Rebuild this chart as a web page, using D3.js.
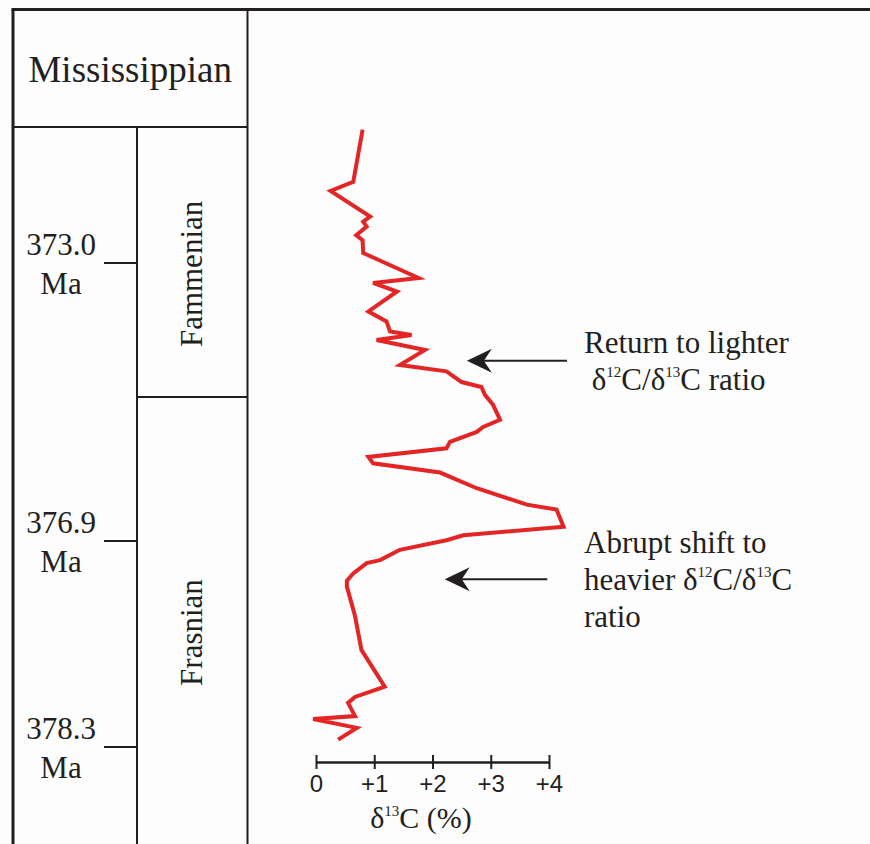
<!DOCTYPE html>
<html>
<head>
<meta charset="utf-8">
<script src="https://cdn.jsdelivr.net/npm/d3@7"></script>
<style>
  body { margin: 0; background: #fdfdfd; }
  svg { display: block; }
  .serif { font-family: "Liberation Serif", "Times New Roman", serif; fill: #231f20; }
  .axis text { font-family: "Liberation Sans", Arial, sans-serif; font-size: 24px; fill: #231f20; }
</style>
</head>
<body>
<svg id="chart"></svg>
<script>
// Age ticks on the time column (Ma)
const ageTicks = [373.0, 376.9, 378.3];
const ageTickLabels = ["373.0", "376.9", "378.3"];

// Stages: name, top age, bottom age
const stageNames = ["Fammenian", "Frasnian"];
const stageTops = [371.09, 374.88];
const stageBottoms = [374.88, 378.96];

// d13C curve, top to bottom
const ageMa = [371.13, 371.86, 371.99, 372.35, 372.42, 372.49, 372.61, 372.68, 372.86, 373.21,
  373.28, 373.40, 373.68, 373.82, 373.96, 374.01, 374.08, 374.22, 374.43, 374.52,
  374.67, 374.74, 374.85, 374.99, 375.20, 375.30, 375.37, 375.51, 375.60, 375.72,
  375.81, 375.94, 376.16, 376.39, 376.46, 376.70, 376.82, 376.89, 376.96, 377.03,
  377.05, 377.12, 377.17, 377.21, 377.41, 377.64, 377.89, 377.96, 378.00, 378.09,
  378.11, 378.17, 378.25];
const d13C = [0.80, 0.64, 0.25, 0.93, 0.81, 0.87, 0.69, 0.80, 0.81, 1.76,
  0.98, 1.39, 0.90, 1.21, 1.27, 1.64, 1.04, 1.87, 1.44, 2.24,
  2.50, 2.84, 2.90, 3.04, 3.16, 2.87, 2.76, 2.30, 2.24, 0.90,
  0.98, 2.13, 2.76, 3.62, 4.13, 4.25, 2.53, 2.24, 1.44, 1.10,
  0.87, 0.64, 0.53, 0.53, 0.67, 0.78, 1.18, 0.67, 0.55, 0.67,
  -0.05, 0.70, 0.38];

// x axis ticks
const xTicks = [0, 1, 2, 3, 4];

// Annotations: arrow age, tip and tail in d13C units, text lines
const noteAges = [374.37, 377.16];
const noteTips = [2.59, 2.21];
const noteTails = [4.31, 3.97];
const noteLines = [
  ["Return to lighter", "\u00a0δ^{12}C/δ^{13}C ratio"],
  ["Abrupt shift to", "heavier δ^{12}C/δ^{13}C", "ratio"]
];

const width = 870, height = 844;
const frameLeft = 13, frameTop = 9.5, colSplit = 137, colRight = 247.5, headerBottom = 127;

const svg = d3.select('#chart')
    .attr('width', width)
    .attr('height', height);

svg.append('rect')
    .attr('width', width).attr('height', height)
    .attr('fill', '#fdfdfd');

// Scales
const xScale = d3.scaleLinear().domain([0, 4]).range([316, 549]);
const yScale = d3.scaleLinear().domain(ageTicks).range([263, 541, 747]);

// writes "δ^{12}C" style strings with superscripts
function richText(sel, str, supSize, supRise) {
  const parts = str.split(/\^\{(\d+)\}/);
  parts.forEach((p, i) => {
    if (!p) return;
    if (i % 2 === 1) {
      sel.append('tspan').attr('dy', -supRise).attr('font-size', supSize).text(p);
    } else {
      const t = sel.append('tspan').text(p);
      if (i > 0) t.attr('dy', supRise);
    }
  });
}

// Frame
const frame = svg.append('g').attr('stroke', '#231f20').attr('fill', 'none');
frame.append('line').attr('x1', frameLeft - 1.5).attr('x2', width).attr('y1', frameTop).attr('y2', frameTop).attr('stroke-width', 3);
frame.append('line').attr('x1', frameLeft).attr('x2', frameLeft).attr('y1', frameTop).attr('y2', height).attr('stroke-width', 3);
frame.append('line').attr('x1', colRight).attr('x2', colRight).attr('y1', frameTop).attr('y2', height).attr('stroke-width', 2);
frame.append('line').attr('x1', frameLeft).attr('x2', colRight).attr('y1', headerBottom).attr('y2', headerBottom).attr('stroke-width', 2);
frame.append('line').attr('x1', colSplit).attr('x2', colSplit).attr('y1', headerBottom).attr('y2', height).attr('stroke-width', 2);

// Stage boundaries (skip the first top, it's the header line)
frame.selectAll('.stage-line')
  .data(stageTops.slice(1))
  .join('line')
    .attr('class', 'stage-line')
    .attr('x1', colSplit).attr('x2', colRight)
    .attr('y1', d => yScale(d)).attr('y2', d => yScale(d))
    .attr('stroke-width', 2);

svg.append('text')
    .attr('class', 'serif')
    .attr('x', (frameLeft + colRight) / 2)
    .attr('y', 82)
    .attr('text-anchor', 'middle')
    .attr('font-size', 37)
    .text('Mississippian');

svg.selectAll('.stage-label')
  .data(stageNames)
  .join('text')
    .attr('class', 'serif stage-label')
    .attr('font-size', 31)
    .attr('text-anchor', 'middle')
    .attr('transform', (d, i) => {
      const cy = (yScale(stageTops[i]) + yScale(stageBottoms[i])) / 2 + 12;
      return `translate(202,${cy}) rotate(-90)`;
    })
    .text(d => d);

// Age ticks
const ageG = svg.append('g');
ageG.selectAll('line')
  .data(ageTicks)
  .join('line')
    .attr('x1', 104).attr('x2', colSplit)
    .attr('y1', d => yScale(d)).attr('y2', d => yScale(d))
    .attr('stroke', '#231f20').attr('stroke-width', 2);

const ageText = ageG.selectAll('text')
  .data(ageTicks)
  .join('text')
    .attr('class', 'serif')
    .attr('font-size', 31)
    .attr('text-anchor', 'middle')
    .attr('y', d => yScale(d) - 8);
ageText.append('tspan').attr('x', 61).text((d, i) => ageTickLabels[i]);
ageText.append('tspan').attr('x', 61).attr('dy', 39).text('Ma');

// d13C curve
const line = d3.line()
    .x(d => xScale(d[0]))
    .y(d => yScale(d[1]));

svg.append('path')
    .datum(d13C.map((v, i) => [v, ageMa[i]]))
    .attr('d', line)
    .attr('fill', 'none')
    .attr('stroke', '#e42525')
    .attr('stroke-width', 4)
    .attr('stroke-linejoin', 'miter')
    .attr('stroke-miterlimit', 4);

// x axis
const axisY = 762;
const xAxis = d3.axisBottom(xScale)
    .tickValues(xTicks)
    .tickSizeOuter(0)
    .tickFormat(d => d === 0 ? '0' : '+' + d);

const axisG = svg.append('g')
    .attr('class', 'axis')
    .attr('transform', `translate(0,${axisY})`)
    .call(xAxis)
    .call(g => g.select('.domain').attr('stroke', '#231f20').attr('stroke-width', 2.5))
    .call(g => g.selectAll('.tick line').attr('y1', -7).attr('y2', 7).attr('stroke', '#231f20').attr('stroke-width', 2))
    .call(g => g.selectAll('.tick text').attr('y', 30).attr('dy', 0));

const axisTitle = svg.append('text')
    .attr('class', 'serif')
    .attr('font-size', 30)
    .attr('text-anchor', 'middle')
    .attr('x', 421)
    .attr('y', 828);
richText(axisTitle, 'δ^{13}C (%)', 15, 12);

// Annotations
noteAges.forEach((age, i) => {
  const y = yScale(age);
  const tip = xScale(noteTips[i]);
  const tail = xScale(noteTails[i]);
  svg.append('line')
      .attr('x1', tip + 15).attr('x2', tail)
      .attr('y1', y).attr('y2', y)
      .attr('stroke', '#231f20').attr('stroke-width', 2);
  svg.append('path')
      .attr('d', `M${tip},${y}L${tip + 25},${y - 12}L${tip + 17},${y}L${tip + 25},${y + 12}Z`)
      .attr('fill', '#231f20');
});

const noteX = 584;
const noteY = [353, 553];
noteLines.forEach((lines, i) => {
  lines.forEach((str, j) => {
    const t = svg.append('text')
        .attr('class', 'serif')
        .attr('font-size', 31)
        .attr('x', noteX)
        .attr('y', noteY[i] + j * 37)
        .style('white-space', 'pre');
    richText(t, str, 15, 13);
  });
});
</script>
</body>
</html>
